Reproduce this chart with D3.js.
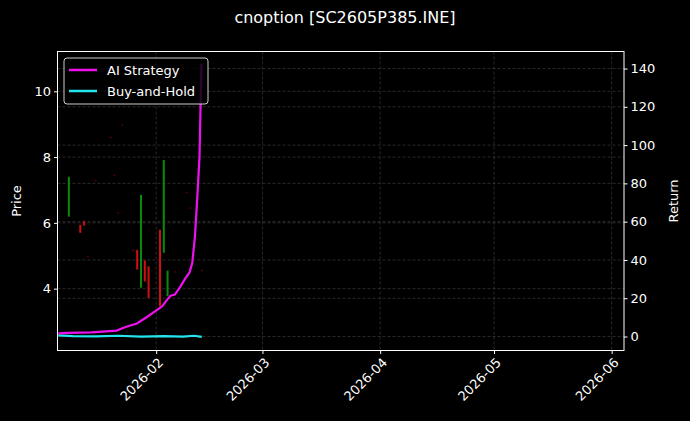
<!DOCTYPE html>
<html><head><meta charset="utf-8">
<script src="https://cdn.jsdelivr.net/npm/d3@7.9.0/dist/d3.min.js"></script>
<style>body{margin:0;background:#000;}svg{display:block;font-family:"DejaVu Sans",sans-serif;}</style>
</head><body>
<svg id="chart" width="690" height="421"></svg>
<script>
// candles (price axis)
const candleDates = ["2026-01-09","2026-01-12","2026-01-13","2026-01-14","2026-01-16","2026-01-20","2026-01-21","2026-01-22","2026-01-23","2026-01-26","2026-01-27","2026-01-28","2026-01-29","2026-01-30","2026-02-02","2026-02-03","2026-02-04","2026-02-06","2026-02-09","2026-02-10","2026-02-13"];
const candleOpen  = [6.19,5.94,6.06,4.98,7.28,8.60,7.45,6.30,8.97,5.16,5.18,4.03,4.86,4.68,5.79,5.09,3.77,4.51,6.92,6.45,4.55];
const candleClose = [7.40,5.70,5.92,4.98,7.28,8.60,7.45,6.30,8.97,5.18,4.58,6.85,4.22,3.72,3.46,7.91,4.55,4.51,6.92,6.45,4.55];
const candleHigh  = [7.40,5.94,6.06,5.00,7.30,8.62,7.47,6.32,8.99,5.20,5.18,6.85,4.86,4.68,5.79,7.91,4.55,4.53,6.94,6.47,4.57];
const candleLow   = [6.19,5.70,5.92,4.96,7.26,8.58,7.43,6.28,8.95,5.14,4.58,4.03,4.22,3.72,3.46,5.09,3.77,4.49,6.90,6.43,4.53];

// returns (right axis)
const stratTimes = ["2026-01-06T05:00","2026-01-08T19:00","2026-01-15T00:00","2026-01-21T14:00","2026-01-23T22:00","2026-01-26T22:00","2026-01-29T14:00","2026-02-02T14:00","2026-02-03T22:00","2026-02-04T19:00","2026-02-05T22:00","2026-02-07T10:00","2026-02-08T17:00","2026-02-09T19:00","2026-02-10T12:00","2026-02-11T05:00","2026-02-11T19:00","2026-02-12T10:00","2026-02-12T22:00"];
const stratReturn = [1.6,1.9,2.2,3.1,5.0,6.8,10.2,15.8,19.3,21.3,21.9,26.2,30.5,33.5,38.4,52.2,71.3,93.9,142.6];
const holdTimes = ["2026-01-06T05:00","2026-01-10","2026-01-16","2026-01-22","2026-01-28","2026-02-03","2026-02-08","2026-02-11","2026-02-13"];
const holdReturn = [0.6,0.2,0.1,0.4,0.0,0.2,0.0,0.4,-0.2];

const returnTicks = [0,20,40,60,80,100,120,140];
const priceTicks = [4,6,8,10];
const monthTicks = ["2026-02-01","2026-03-01","2026-04-01","2026-05-01","2026-06-01"];

const svg = d3.select("#chart");
const L = 57.5, R = 624, T = 51.5, B = 350.5;
const x = d3.scaleTime().domain([new Date("2026-01-06T00:00"), new Date("2026-06-04T06:00")]).range([L, R]);
const yP = d3.scaleLinear().domain([2.12, 11.21]).range([B, T]);
const yR = d3.scaleLinear().domain([-7.3, 148.9]).range([B, T]);
const grid = "#444";

// grids
const g = svg.append("g");
monthTicks.forEach(d => g.append("line").attr("x1", x(new Date(d+"T00:00"))).attr("x2", x(new Date(d+"T00:00")))
  .attr("y1", T).attr("y2", B).attr("stroke", grid).attr("stroke-width", 0.6).attr("stroke-dasharray", "3,2"));
priceTicks.forEach(v => g.append("line").attr("x1", L).attr("x2", R).attr("y1", yP(v)).attr("y2", yP(v))
  .attr("stroke", grid).attr("stroke-width", 0.6).attr("stroke-dasharray", "3,2"));
returnTicks.forEach(v => g.append("line").attr("x1", L).attr("x2", R).attr("y1", yR(v)).attr("y2", yR(v))
  .attr("stroke", grid).attr("stroke-width", 0.6).attr("stroke-dasharray", "3,2"));

// candles
candleDates.forEach((d, i) => {
  const cx = x(new Date(d + "T00:00"));
  const up = candleClose[i] >= candleOpen[i];
  const flat = Math.abs(candleClose[i] - candleOpen[i]) < 0.03;
  const col = flat ? "#5a0000" : (up ? "#0a8a0a" : "#d01010");
  const y1 = yP(candleHigh[i]), y2 = yP(candleLow[i]);
  svg.append("rect").attr("x", cx - 1).attr("width", 2).attr("y", y1).attr("height", Math.max(1.2, y2 - y1)).attr("fill", col);
});

const line = (times, vals) => d3.line().x((d, i) => x(new Date(times[i]))).y(d => yR(d))(vals);
svg.append("path").attr("d", line(holdTimes, holdReturn)).attr("fill", "none").attr("stroke", "#22e5ee").attr("stroke-width", 2.2);
svg.append("path").attr("d", line(stratTimes, stratReturn)).attr("fill", "none").attr("stroke", "#ee11ee").attr("stroke-width", 2.2);

// frame
svg.append("rect").attr("x", L).attr("y", T).attr("width", R - L).attr("height", B - T).attr("fill", "none").attr("stroke", "#fff").attr("stroke-width", 1);

// axes
const xa = svg.append("g").attr("transform", `translate(0,${B})`)
  .call(d3.axisBottom(x).tickValues(monthTicks.map(d => new Date(d+"T00:00"))).tickFormat(d3.timeFormat("%Y-%m")).tickSize(3.5));
xa.selectAll("text").attr("transform", "rotate(-45)").attr("text-anchor", "end").attr("dx", "-0.3em").attr("dy", "0.6em");
const ya = svg.append("g").attr("transform", `translate(${L},0)`).call(d3.axisLeft(yP).tickValues(priceTicks).tickSize(3.5));
const yr = svg.append("g").attr("transform", `translate(${R},0)`).call(d3.axisRight(yR).tickValues(returnTicks).tickSize(3.5));
[xa, ya, yr].forEach(a => {
  a.select(".domain").remove();
  a.selectAll("line").attr("stroke", "#fff");
  a.selectAll("text").attr("fill", "#fff").style("font-size", "13px").style("font-family", "DejaVu Sans");
});

svg.append("text").attr("x", 345).attr("y", 23).attr("text-anchor", "middle").attr("fill", "#fff").style("font-size", "16px").text("cnoption [SC2605P385.INE]");
svg.append("text").attr("transform", `translate(21,${(T+B)/2}) rotate(-90)`).attr("text-anchor", "middle").attr("fill", "#fff").style("font-size", "13px").text("Price");
svg.append("text").attr("transform", `translate(678,${(T+B)/2}) rotate(-90)`).attr("text-anchor", "middle").attr("fill", "#fff").style("font-size", "13px").text("Return");

// legend
const lg = svg.append("g").attr("transform", "translate(64,58)");
lg.append("rect").attr("width", 144).attr("height", 46).attr("rx", 3).attr("fill", "#000").attr("fill-opacity", 0.8).attr("stroke", "#ccc").attr("stroke-width", 1);
[["AI Strategy", "#ee11ee"], ["Buy-and-Hold", "#22e5ee"]].forEach(([t, c], i) => {
  const yy = 12 + i * 21;
  lg.append("line").attr("x1", 5).attr("x2", 33).attr("y1", yy).attr("y2", yy).attr("stroke", c).attr("stroke-width", 2.5);
  lg.append("text").attr("x", 43).attr("y", yy + 5).attr("fill", "#fff").style("font-size", "13px").text(t);
});
</script>
</body></html>
